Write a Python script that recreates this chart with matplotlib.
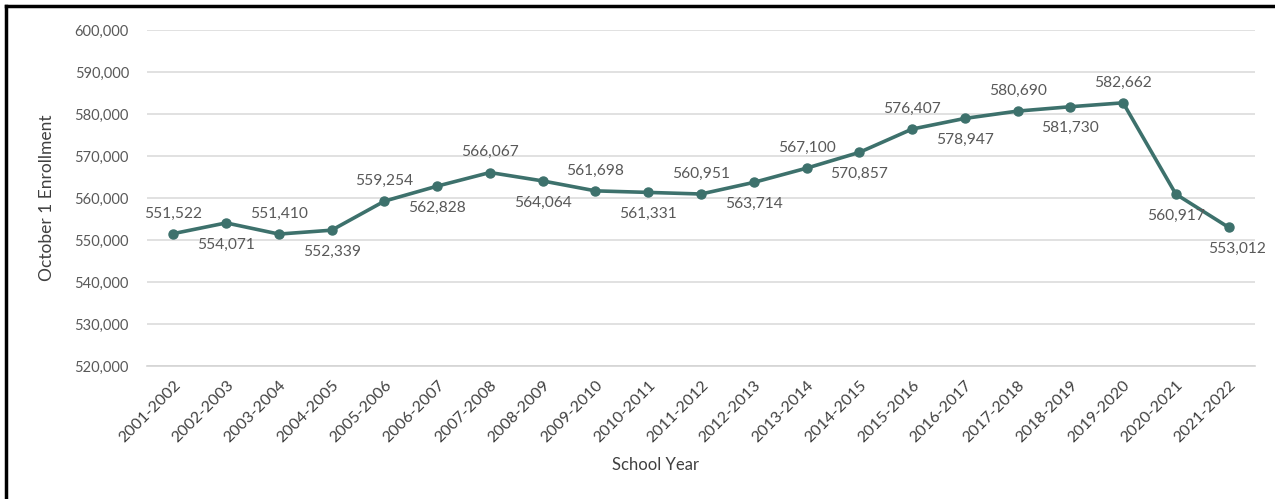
import matplotlib
matplotlib.use("Agg")
import matplotlib.pyplot as plt
from matplotlib.lines import Line2D
from matplotlib.ticker import FuncFormatter

years = ['2001-2002', '2002-2003', '2003-2004', '2004-2005', '2005-2006',
         '2006-2007', '2007-2008', '2008-2009', '2009-2010', '2010-2011',
         '2011-2012', '2012-2013', '2013-2014', '2014-2015', '2015-2016',
         '2016-2017', '2017-2018', '2018-2019', '2019-2020', '2020-2021',
         '2021-2022']
enrollment = [551522, 554071, 551410, 552339, 559254, 562828, 566067, 564064,
              561698, 561331, 560951, 563714, 567100, 570857, 576407, 578947,
              580690, 581730, 582662, 560917, 553012]
# where each value label sits relative to its point
label_side = ['up', 'down', 'up', 'down', 'up', 'down', 'up', 'down', 'up',
              'down', 'up', 'down', 'up', 'down', 'up', 'down', 'up', 'down',
              'up', 'down', 'down']

line_color = '#3d716c'
text_color = '#595959'
plt.rcParams['font.family'] = ['Lato', 'DejaVu Sans']

fig = plt.figure(figsize=(12.75, 4.99), dpi=100)
ax = fig.add_axes([147 / 1275, 1 - 366 / 499, (1255 - 147) / 1275, 336 / 499])

x = list(range(len(years)))
ax.plot(x, enrollment, color=line_color, lw=2.6, marker='o', ms=6.5,
        solid_joinstyle='round', zorder=3)

for i, (v, side) in enumerate(zip(enrollment, label_side)):
    dx = 6 if i == len(years) - 1 else 0
    if side == 'up':
        ax.annotate(f'{v:,}', (i, v), xytext=(dx, 9.5), textcoords='offset points',
                    ha='center', va='bottom', fontsize=11.2, color=text_color)
    else:
        ax.annotate(f'{v:,}', (i, v), xytext=(dx, -10.5), textcoords='offset points',
                    ha='center', va='top', fontsize=11.2, color=text_color)

ax.set_xlim(-0.5, len(years) - 0.5)
ax.set_ylim(520000, 600000)
ax.set_yticks(range(520000, 600001, 10000))
ax.yaxis.set_major_formatter(FuncFormatter(lambda v, p: f'{int(v):,}'))
ax.set_xticks(x)
ax.set_xticklabels(years, rotation=45, ha='right', rotation_mode='anchor')

ax.grid(axis='y', color='#dcdcdc', lw=1.2)
ax.set_axisbelow(True)
for s in ['top', 'right', 'left']:
    ax.spines[s].set_visible(False)
ax.spines['bottom'].set_color('#d4d4d4')
ax.spines['bottom'].set_linewidth(1.2)
ax.tick_params(axis='y', length=0, pad=13, labelsize=10.5, labelcolor=text_color)
ax.tick_params(axis='x', length=0, pad=9, labelsize=11.5, labelcolor='#404040')

ax.set_xlabel('School Year', fontsize=12, color='#404040')
ax.set_ylabel('October 1 Enrollment', fontsize=12.5, color='#404040')
ax.yaxis.set_label_coords((47 - 147) / 1108, 0.5)
ax.xaxis.set_label_coords((655 - 147) / 1108, -(465 - 366) / 336)
ax.xaxis.label.set_verticalalignment('center')
ax.yaxis.label.set_verticalalignment('center')

# black frame along the top and left edges
fig.add_artist(Line2D([6 / 1275, 1], [1 - 6 / 499, 1 - 6 / 499],
                      transform=fig.transFigure, color='black', lw=2.5))
fig.add_artist(Line2D([6 / 1275, 6 / 1275], [0, 1 - 6 / 499],
                      transform=fig.transFigure, color='black', lw=2.5))

fig.savefig('out.png', dpi=100)
